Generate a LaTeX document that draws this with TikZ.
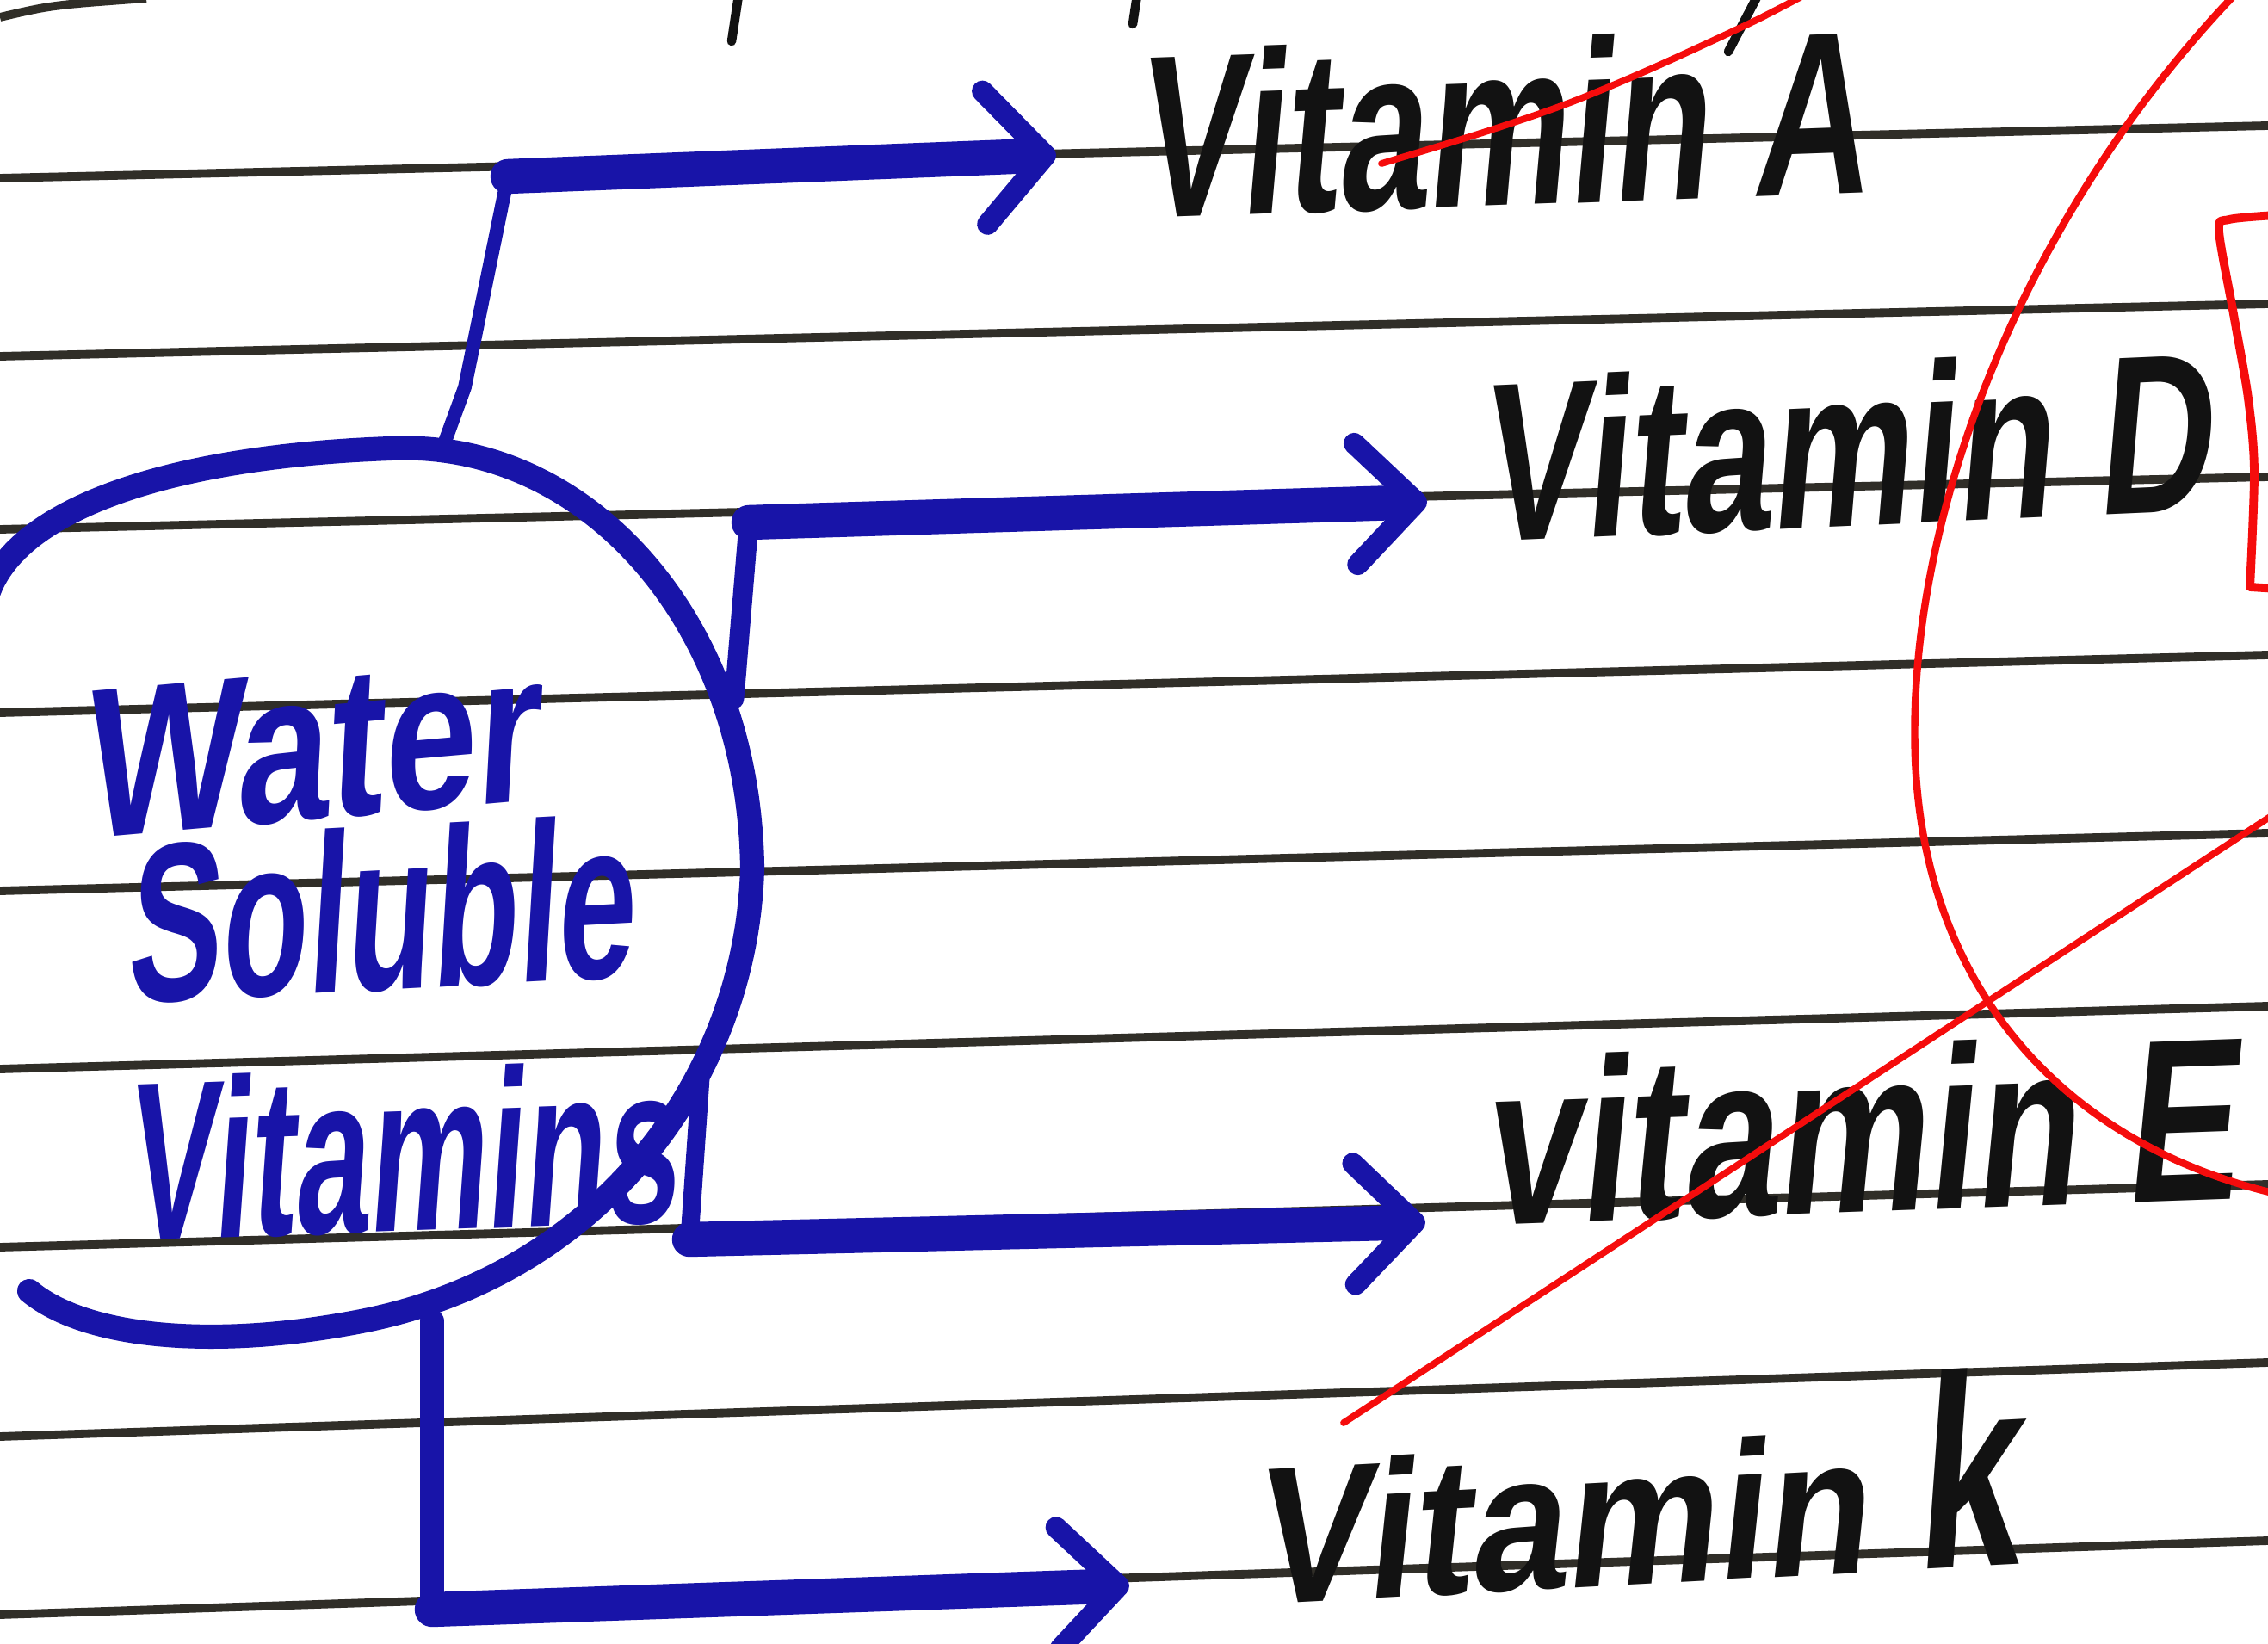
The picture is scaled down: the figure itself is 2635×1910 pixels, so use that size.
\documentclass[tikz,border=0pt]{standalone}
\usepackage{fontspec}
\usepackage{graphicx}
\usetikzlibrary{arrows.meta}
\newfontfamily\handfont[FakeSlant=0.18]{Liberation Sans}
\definecolor{ink}{RGB}{24,20,168}
\definecolor{rulecol}{RGB}{48,46,40}
\definecolor{pen}{RGB}{18,18,18}
\definecolor{redpen}{RGB}{245,12,12}
\newcommand{\handtext}[3]{\resizebox{#1cm}{#2cm}{\handfont\bfseries #3}}
\tikzset{
  ruled/.style={rulecol, line width=2.8pt},
  blob/.style={ink, line width=8pt, line cap=round, line join=round},
  stem/.style={ink, line cap=round, line join=round},
  shaft/.style={ink, line width=11.5pt, line cap=round, -{Straight Barb[length=20pt,width=40pt,line width=7pt,round]}},
  vitlabel/.style={inner sep=0pt, anchor=south west, text=pen},
  wlabel/.style={inner sep=0pt, anchor=south west, text=ink},
  redline/.style={redpen, line width=2.2pt, line cap=round, line join=round},
  scrib/.style={pen, line width=3pt, line cap=round}
}
\begin{document}
\begin{tikzpicture}[x=0.01cm,y=-0.01cm]
\useasboundingbox (0,0) rectangle (2635,1910);
\clip (0,0) rectangle (2635,1910);
\fill[white] (0,0) rectangle (2635,1910);
% notebook ruling
\foreach \ya/\yb in {207/146,414/353,615/554,828/761,1035/968,1242/1169,1449/1376,1669/1583,1876/1790}
  \draw[ruled] (0,\ya) -- (2635,\yb);
\draw[ruled] (0,20) .. controls (60,6) .. (170,-2);
% fragments of handwriting from the line above
\draw[scrib] (858,-5) -- (850,48);
\draw[scrib] (1321,-5) -- (1316,28);
\draw[scrib] (2042,-5) -- (2008,60);
% the blob round the central label
\draw[blob] (-14,690) .. controls (20,590) and (200,530) .. (454,521)
  .. controls (680,510) and (870,720) .. (874,1008)
  .. controls (868,1250) and (700,1480) .. (420,1535)
  .. controls (250,1568) and (100,1555) .. (34,1500);
% central label
\node[wlabel, rotate=5] (ws1) at (98,978) {\handtext{5.3}{1.7}{Water}};
\node[wlabel, rotate=3] (ws2) at (146,1169) {\handtext{5.9}{1.9}{Soluble}};
\node[wlabel, rotate=2] (ws3) at (146,1445) {\handtext{6.4}{1.9}{Vitamins}};
% vitamin labels
\node[vitlabel, rotate=2] (vA) at (1319,257) {\handtext{8.5}{1.95}{Vitamin A}};
\node[vitlabel, rotate=2.5] (vD) at (1719,633) {\handtext{8.5}{1.9}{Vitamin D}};
\node[vitlabel, rotate=2] (vE) at (1723,1427) {\handtext{8.75}{1.95}{vitamin E}};
\node[vitlabel, rotate=3] (vK) at (1456,1867) {\handtext{8.9}{2.3}{Vitamin \scalebox{1.1}[1.4]{k}}};
% connector points
\coordinate (bA) at (517,513); \coordinate (mA) at (540,450);
\coordinate (kA) at (590,205); \coordinate (tA) at (1227,180);
\coordinate (bD) at (853,812); \coordinate (kD) at (870,607); \coordinate (tD) at (1658,583);
\coordinate (bE) at (815,1237); \coordinate (kE) at (801,1440); \coordinate (tE) at (1656,1420);
\coordinate (bK) at (502,1535); \coordinate (kK) at (502,1870); \coordinate (tK) at (1312,1842);
% connectors
\draw[stem, line width=4.5pt] (bA) -- (mA) -- (kA);
\draw[shaft, -{Straight Barb[length=20pt,width=44pt,line width=7pt,round]}] (kA) -- (tA);
\draw[stem, line width=6.5pt] (bD) -- (kD);
\draw[shaft] (kD) -- (tD);
\draw[stem, line width=6pt] (bE) -- (kE);
\draw[shaft] (kE) -- (tE);
\draw[stem, line width=8pt] (bK) -- (kK);
\draw[shaft] (kK) -- (tK);
% red marks
\draw[redline] plot[smooth] coordinates {(1605,190) (1726,153) (1822,120) (1918,80) (2033,27) (2095,-5)};
\draw[redline, line width=2.4pt] (2600,-10) .. controls (2350,250) and (2215,600) .. (2225,880)
  .. controls (2235,1150) and (2400,1330) .. (2645,1387);
\draw[redline] (1561,1653) -- (2645,944);
\draw[redline, line width=2.8pt] plot[smooth] coordinates {(2645,250) (2590,255) (2578,268) (2595,365) (2612,463) (2619,548) (2614,682)} -- (2645,684);
\end{tikzpicture}
\end{document}
